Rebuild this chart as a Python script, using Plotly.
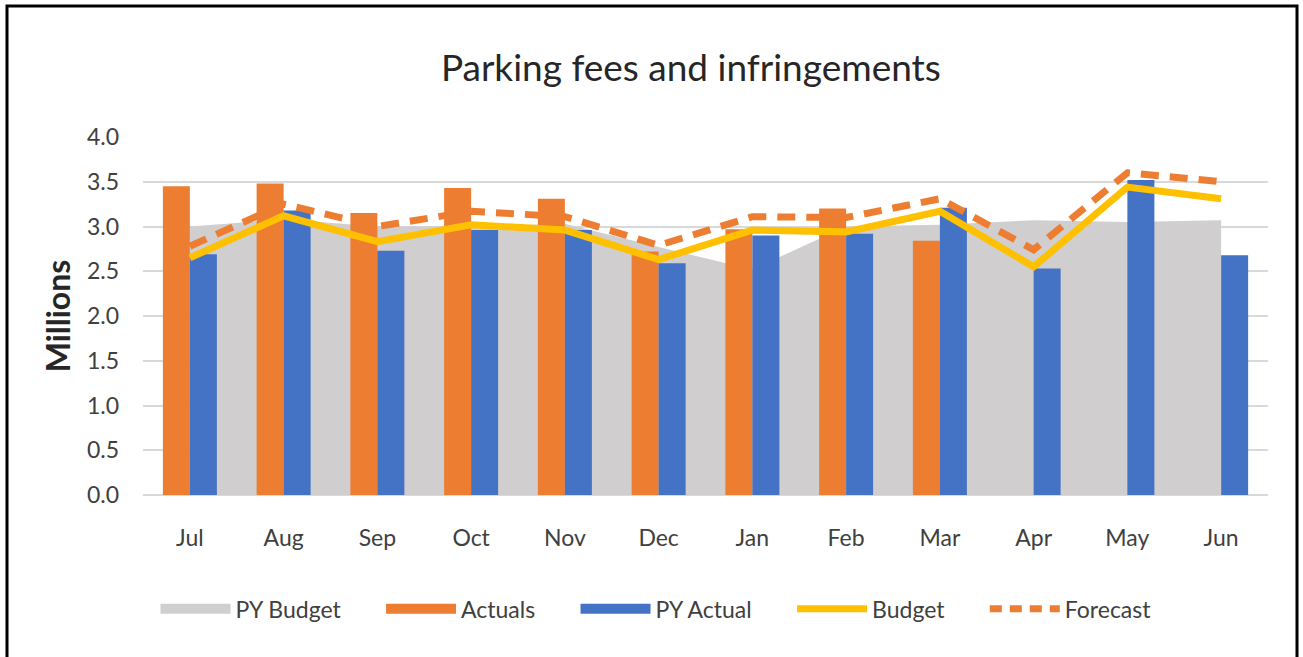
import plotly.graph_objects as go

months = ["Jul", "Aug", "Sep", "Oct", "Nov", "Dec", "Jan", "Feb", "Mar", "Apr", "May", "Jun"]
py_budget = [3.00, 3.08, 3.00, 3.00, 3.03, 2.77, 2.52, 3.00, 3.02, 3.07, 3.05, 3.07]
actuals = [3.45, 3.48, 3.15, 3.43, 3.31, 2.72, 2.97, 3.20, 2.84, None, None, None]
py_actual = [2.69, 3.18, 2.73, 2.96, 2.96, 2.59, 2.90, 2.92, 3.21, 2.53, 3.52, 2.68]
budget = [2.65, 3.12, 2.83, 3.02, 2.96, 2.63, 2.96, 2.94, 3.17, 2.55, 3.44, 3.31]
forecast = [2.78, 3.25, 3.00, 3.17, 3.11, 2.79, 3.11, 3.10, 3.31, 2.74, 3.60, 3.50]
y_ticks = [0, 0.5, 1.0, 1.5, 2.0, 2.5, 3.0, 3.5, 4.0]
series_names = ["PY Budget", "Actuals", "PY Actual", "Budget", "Forecast"]

FONT = "Lato"
TXT = "#404040"
GREY, ORANGE, BLUE, YELLOW = "#D0CECE", "#ED7D31", "#4472C4", "#FFC000"

fig = go.Figure()
fig.add_trace(go.Scatter(x=months, y=py_budget, name=series_names[0], mode="none",
                         fill="tozeroy", fillcolor=GREY, xaxis="x", yaxis="y",
                         showlegend=False))
fig.add_trace(go.Bar(x=months, y=actuals, name=series_names[1], marker_color=ORANGE,
                     marker_line_width=0, xaxis="x", yaxis="y2", showlegend=False))
fig.add_trace(go.Bar(x=months, y=py_actual, name=series_names[2], marker_color=BLUE,
                     marker_line_width=0, xaxis="x", yaxis="y2", showlegend=False))
fig.add_trace(go.Scatter(x=months, y=budget, name=series_names[3], mode="lines",
                         line=dict(color=YELLOW, width=7), xaxis="x", yaxis="y2",
                         showlegend=False))
fig.add_trace(go.Scatter(x=months, y=forecast, name=series_names[4], mode="lines",
                         line=dict(color=ORANGE, width=7, dash="18px,11px"),
                         xaxis="x", yaxis="y2", showlegend=False))

# legend-only entries (wide swatches like the original)
styles = [(GREY, 20, "solid"), (ORANGE, 20, "solid"), (BLUE, 20, "solid"),
          (YELLOW, 7, "solid"), (ORANGE, 7, "12px,8px")]
pad = "\u00a0" * 6
for i, (name, (color, width, dash)) in enumerate(zip(series_names, styles)):
    label = name + (pad if i < len(series_names) - 1 else "")
    fig.add_trace(go.Scatter(x=[None], y=[None], name=label, mode="lines",
                             line=dict(color=color, width=width, dash=dash),
                             xaxis="x", yaxis="y2", showlegend=True, hoverinfo="skip"))

fig.update_layout(
    width=1303, height=657,
    margin=dict(l=143, r=35, t=137, b=162),
    paper_bgcolor="white", plot_bgcolor="white",
    barmode="group", bargap=0.424, bargroupgap=0,
    showlegend=True,
    font=dict(family=FONT, size=23, color=TXT),
    title=dict(text="Parking fees and infringements", font=dict(family=FONT, size=37, color="#262626"),
               x=0.487, xref="paper", xanchor="center", y=1 - 68 / 657, yref="container", yanchor="middle"),
    xaxis=dict(type="category", range=[-0.5, 11.5], showgrid=False, showline=False,
               ticks="", ticklabelstandoff=27, tickfont=dict(family=FONT, size=23, color=TXT)),
    yaxis=dict(range=[0, 4.0], tickvals=y_ticks, tickformat=".1f", showgrid=True,
               gridcolor="#D9D9D9", gridwidth=2, zeroline=True, zerolinecolor="#D9D9D9",
               zerolinewidth=2, showline=False, ticks="", ticklabelstandoff=23,
               tickfont=dict(family=FONT, size=23, color=TXT),
               title=dict(text="<b>Millions</b>", font=dict(family=FONT, size=32, color="#262626"), standoff=6)),
    yaxis2=dict(range=[0, 4.0], overlaying="y", visible=False),
    legend=dict(orientation="h", x=0.456, xanchor="center", y=-0.318, yanchor="middle",
                font=dict(family=FONT, size=23, color=TXT), itemwidth=70,
                traceorder="normal", bgcolor="rgba(0,0,0,0)"),
)

# chart border
fig.add_shape(type="rect", xref="paper", yref="paper",
              x0=(7 - 143) / 1125, x1=(1297 - 143) / 1125,
              y0=(495 - 680) / 358, y1=(495 - 6) / 358,
              line=dict(color="black", width=3), fillcolor="rgba(0,0,0,0)", layer="above")

fig.write_html("out.html", config={"displayModeBar": False},
               post_script="document.body.style.margin='0';")
